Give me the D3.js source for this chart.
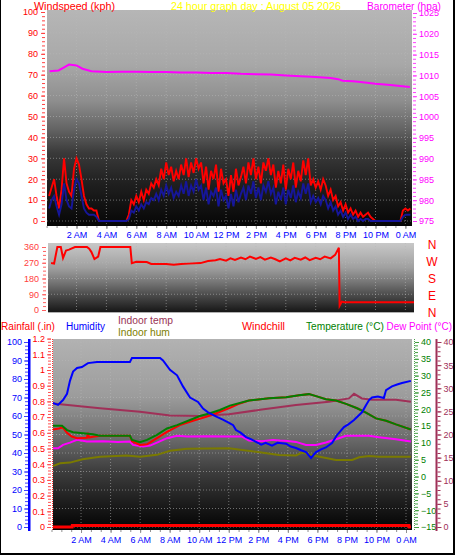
<!DOCTYPE html>
<html><head><meta charset="utf-8">
<script src="https://cdn.jsdelivr.net/npm/d3@7"></script>
<style>body{margin:0;background:#fff;overflow:hidden}svg{display:block}</style>
</head><body><svg id="c" width="459" height="555"></svg>
<script>
// ---------------- DATA ----------------
const hourTicks = [2,4,6,8,10,12,14,16,18,20,22,24];
const hourLabels = ["2 AM","4 AM","6 AM","8 AM","10 AM","12 PM","2 PM","4 PM","6 PM","8 PM","10 PM","0 AM"];

// wind samples every 10 minutes starting 0:10
const windStartHour = 1/6, windStepHour = 1/6;
const windGust = [12,16,20,12,6,15,30,18,14,12,25,30,27,20,12,8,6,6,5,5,
 0,0,0,0,0,0,0,0,0,0,0,0,
 3,10,8,12,9,14,10,15,13,18,16,20,17,25,20,28,22,26,19,24,20,27,22,30,21,28,23,30,25,28,18,26,15,24,20,27,14,25,18,20,12,22,14,25,17,21,26,18,28,22,30,20,26,18,28,24,30,22,27,16,24,18,27,15,25,20,28,16,24,19,29,22,30,17,20,16,19,15,20,17,12,15,10,12,7,9,5,8,4,6,3,5,2,4,2,3,4,2,1,
 0,0,0,0,0,0,0,0,0,0,0,
 5,6,5,6];
const windAvg = [6,10,12,7,3,8,18,10,7,6,15,20,18,12,6,4,3,3,3,2,
 0,0,0,0,0,0,0,0,0,0,0,0,
 1,5,4,7,5,8,6,9,8,11,10,13,10,15,12,17,13,16,11,14,12,17,13,19,12,17,14,20,15,17,10,16,8,14,12,16,7,15,10,12,6,13,7,15,9,13,16,10,17,13,19,11,16,10,17,14,19,13,16,8,14,10,16,8,15,11,17,9,14,11,18,13,18,9,12,9,11,8,12,10,6,9,5,7,3,5,2,4,1,3,1,2,0,1,0,1,1,0,0,
 0,0,0,0,0,0,0,0,0,0,0,
 2,3,3,3];

const baroHours  = [0.2,0.8,1.2,1.5,2.0,2.4,3.0,4,5,6,7,8,9,10,11,12,13,14,15,16,17,18,19,19.5,19.8,20.5,21,22,23,24.3];
const baroValues = [1011.0,1011.2,1012.0,1012.6,1012.4,1011.6,1011.0,1010.8,1010.9,1010.9,1010.8,1010.8,1010.7,1010.7,1010.6,1010.6,1010.4,1010.3,1010.2,1010.0,1009.8,1009.6,1009.4,1009.1,1008.7,1008.6,1008.4,1008.0,1007.7,1007.2];

const dirHours  = [0.3,0.5,0.72,0.95,1.1,1.3,1.5,1.9,2.7,2.85,3.0,3.2,3.45,3.6,5.6,5.7,6.0,6.7,7.0,8.0,8.5,9.0,9.5,10.3,10.8,11.3,11.6,12.0,12.3,12.6,13.0,13.3,13.6,14.0,14.3,14.6,15.0,15.3,15.6,16.0,16.3,16.6,17.0,17.3,17.6,18.0,18.3,18.6,19.0,19.3,19.55,19.6,19.75,19.9,24.6];
const dirValues = [268,265,360,360,297,340,345,360,360,350,331,291,305,360,360,268,276,274,263,263,258,263,265,268,280,284,291,282,295,286,300,290,305,292,302,288,300,290,278,295,283,298,288,300,285,298,290,305,295,315,356,25,48,44,44];

const humHours  = [0.1,0.44,0.78,1.05,1.25,1.46,1.73,2.06,2.47,3.08,5.31,5.45,7.35,7.55,8.02,8.5,8.9,9.38,9.92,10.26,10.6,11.2,11.6,12.08,12.3,12.49,12.8,13.17,13.5,13.85,14.2,14.5,14.93,15.3,15.88,16.2,16.55,16.9,17.23,17.57,17.91,18.25,18.58,18.99,19.33,19.8,20.1,20.48,21.02,21.3,21.5,21.7,22.1,22.5,22.65,23.05,23.4,23.73,24.33];
const humValues = [67,66,68.6,72,79,84,86,86.5,88.6,89.2,89.2,91.4,91.4,90,85,82,76,70,67.6,64,62,59.5,58,56,55,52.4,51,48.6,47.5,46,44.5,45.5,44,45.5,45,43.5,42.7,41.5,40.5,37.3,40.5,42,43,45.4,49.7,54,55.5,57.8,62,66,68.6,70,70.5,69.7,74,76,77,77.8,79];

const tempHours  = [0.1,0.71,1.05,1.46,2.81,3.28,5.31,5.45,5.99,6.47,7.14,7.82,8.5,9.38,10.05,10.73,11.4,12.08,13.37,14.73,15.88,16.76,17.43,17.91,18.58,19.26,19.94,20.69,21.29,21.97,22.65,23.32,24.33];
const tempValues = [15.1,15.1,13.8,13.2,12.6,12.1,12.1,10.9,10.2,10.9,12.4,14.3,15.3,16.8,18.0,18.8,19.8,21.1,22.6,23.3,23.6,24.2,24.5,23.9,23.0,22.6,21.6,20.3,19.0,17.3,16.6,15.5,14.0];

const chillHours  = [0.1,0.5,0.75,1.05,1.37,1.73,2.4,2.45,2.55,2.81,3.3,5.31,5.45,5.99,6.47,7.14,7.82,8.69,9.58,10.53,11.2,12.08,12.6,13.37,14.73,15.88,16.76,17.43,17.91,18.58,19.26,19.94,20.69,21.29,21.97,22.65,23.32,24.33];
const chillValues = [14.0,14.3,14.6,13.0,11.9,11.4,11.5,13.0,11.6,11.8,12.1,12.1,10.5,9.4,9.6,11.4,13.3,15.3,16.6,17.8,18.9,20.4,21.5,22.6,23.3,23.6,24.2,24.5,23.9,23.0,22.6,21.6,20.3,19.0,17.3,16.6,15.5,14.0];

const dewHours  = [0.1,0.44,0.78,1.25,1.73,2.4,3.5,4.5,5.31,5.52,6.2,6.67,7.14,7.82,8.5,9.17,10.5,12.08,12.9,13.37,14.25,15.0,15.47,16.0,16.55,17.23,17.91,18.58,19.26,19.94,21.5,22.17,23.32,24.33];
const dewValues = [8.4,8.4,9.4,10.1,10.9,10.4,10.5,10.3,10.4,9.4,8.9,9.2,10.1,11.4,12.1,11.9,12.0,11.9,11.9,10.7,10.5,10.9,10.7,10.6,10.3,9.4,9.4,10.1,11.1,12.1,12.1,11.7,11.1,10.4];

const inTempHours  = [0.1,3.28,5.99,8.02,10.05,11.07,12.02,14.25,16.55,18.79,20.14,20.48,21.02,21.7,23.32,24.33];
const inTempValues = [26.7,25.7,24.9,24.1,24.0,24.2,24.4,25.4,26.4,27.1,27.8,28.8,27.8,27.5,27.5,27.1];

const inHumHours  = [0.1,0.58,1.25,2.1,3.28,5.1,5.99,7.14,8.02,9.17,12.02,13.85,15.4,16.55,16.96,17.91,19.26,20.35,20.82,21.5,22.17,24.33];
const inHumValues = [33,34.4,34.8,36.6,38,38.7,38,39,41.2,42.3,42.5,40.7,38.9,38.7,40.2,38.4,36.2,36.2,37.7,38.4,38,38];

const rainHours  = [0.1,1.4,1.41,24.2,24.21,24.33];
const rainValues = [0,0,0.01,0.01,0,0];

const dirLetters = ["N","W","S","E","N"];

// ---------------- DRAWING ----------------
const FONT = "'Liberation Sans', Arial, sans-serif";
const svg = d3.select("#c");
const defs = svg.append("defs");
function grad(id, stops){
  const g = defs.append("linearGradient").attr("id", id).attr("x1",0).attr("y1",0).attr("x2",0).attr("y2",1);
  stops.forEach(([o,c]) => g.append("stop").attr("offset", o).attr("stop-color", c));
}
grad("gTop", [[0,"#b6b6b6"],[0.25,"#a8a8a8"],[0.42,"#8e8e8e"],[0.55,"#646464"],[0.66,"#3a3a3a"],[0.8,"#202020"],[1,"#060606"]]);
grad("gMid", [[0,"#c8c8c8"],[0.35,"#a0a0a0"],[0.55,"#787878"],[0.75,"#4a4a4a"],[1,"#141414"]]);
grad("gBot", [[0,"#b2b2b2"],[0.3,"#9c9c9c"],[0.5,"#707070"],[0.68,"#404040"],[0.85,"#1e1e1e"],[1,"#020202"]]);

const pTop = {x0:47, x1:412, y0:10, y1:226};
const pMid = {x0:48, x1:414, y0:243, y1:313};
const pBot = {x0:53, x1:412, y0:339, y1:530};

function panel(p, id, fill){
  defs.append("clipPath").attr("id", id).append("rect")
    .attr("x", p.x0).attr("y", p.y0).attr("width", p.x1-p.x0).attr("height", p.y1-p.y0);
  svg.append("rect").attr("x", p.x0).attr("y", p.y0).attr("width", p.x1-p.x0).attr("height", p.y1-p.y0).attr("fill", fill);
  return svg.append("g").attr("clip-path", `url(#${id})`);
}

function axis(gen, tx, ty, tickColor, textColor, fs){
  const g = svg.append("g").attr("transform", `translate(${tx},${ty})`).call(gen);
  g.select(".domain").remove();
  g.selectAll(".tick line").attr("stroke", tickColor);
  g.selectAll(".tick text").attr("fill", textColor).attr("font-size", fs).attr("font-family", FONT);
  return g;
}
function rng(a, b, s){ const out=[]; for(let v=a; v<=b+1e-9; v+=s) out.push(+v.toFixed(4)); return out; }

function gridLines(g, p, xs, ys){
  xs.forEach(x => g.append("line").attr("x1",x).attr("x2",x).attr("y1",p.y0).attr("y2",p.y1)
    .attr("stroke","#b8b8b8").attr("stroke-opacity",0.55).attr("stroke-dasharray","1,2"));
  ys.forEach(y => g.append("line").attr("x1",p.x0).attr("x2",p.x1).attr("y1",y).attr("y2",y)
    .attr("stroke","#b8b8b8").attr("stroke-opacity",0.55).attr("stroke-dasharray","1,2"));
}

// ===== TOP PANEL =====
const xTop = d3.scaleLinear().domain([0,24]).range([46.6, 405.4]);
const yWind = d3.scaleLinear().domain([0,100]).range([221,12]);
const yBaro = d3.scaleLinear().domain([975,1025]).range([221,13]);
const gTop = panel(pTop, "cTop", "url(#gTop)");
gridLines(gTop, pTop, hourTicks.map(xTop), rng(0,100,10).map(yWind));

const windHours = windGust.map((_, i) => windStartHour + i*windStepHour);
const lineW = d3.line().x((d,i)=>xTop(windHours[i])).y(d=>yWind(d));
gTop.append("path").attr("d", lineW(windGust)).attr("fill","none").attr("stroke","#ff0000").attr("stroke-width",1.9);
gTop.append("path").attr("d", lineW(windAvg)).attr("fill","none").attr("stroke","#16169a").attr("stroke-width",1.9);
const lineB = d3.line().x((d,i)=>xTop(baroHours[i])).y(d=>yBaro(d));
gTop.append("path").attr("d", lineB(baroValues)).attr("fill","none").attr("stroke","#ff00ff").attr("stroke-width",2);

axis(d3.axisLeft(yWind).tickValues(rng(0,100,2)).tickSize(3).tickFormat(""), 45, 0, "#ff4040", "#ff0000", 9);
axis(d3.axisLeft(yWind).tickValues(rng(0,100,10)).tickSize(4).tickPadding(3), 45, 0, "#ff4040", "#ff0000", 9);
axis(d3.axisRight(yBaro).tickValues(rng(975,1025,1)).tickSize(3).tickFormat(""), 413, 0, "#ff40ff", "#ff00ff", 9);
axis(d3.axisRight(yBaro).tickValues(rng(975,1025,5)).tickSize(4).tickPadding(2).tickFormat(d3.format("d")), 413, 0, "#ff40ff", "#ff00ff", 9);
axis(d3.axisBottom(xTop).tickValues(rng(0,24.4,2/3)).tickSize(2).tickFormat(""), 0, pTop.y1, "#909090", "#0000ff", 9);
axis(d3.axisBottom(xTop).tickValues(hourTicks).tickSize(3).tickPadding(3).tickFormat((d,i)=>hourLabels[i]), 0, pTop.y1, "#909090", "#0000ff", 9);

// ===== MIDDLE PANEL =====
const yDir = d3.scaleLinear().domain([0,360]).range([310,247]);
const gMid = panel(pMid, "cMid", "url(#gMid)");
gridLines(gMid, pMid, hourTicks.map(xTop), [90,180,270].map(yDir));
const lineD = d3.line().x((d,i)=>xTop(dirHours[i])).y(d=>yDir(d));
gMid.append("path").attr("d", lineD(dirValues)).attr("fill","none").attr("stroke","#ff0000").attr("stroke-width",2);
svg.append("line").attr("x1",pMid.x0).attr("x2",pMid.x1).attr("y1",pMid.y1-0.5).attr("y2",pMid.y1-0.5).attr("stroke","#b0b0b0");
axis(d3.axisLeft(yDir).tickValues(rng(0,360,22.5)).tickSize(3).tickFormat(""), 46, 0, "#ff6060", "#ff4040", 9);
axis(d3.axisLeft(yDir).tickValues([0,90,180,270,360]).tickSize(4).tickPadding(3), 46, 0, "#ff6060", "#ff4040", 9);
svg.append("g").selectAll("text").data(dirLetters).join("text")
  .attr("x", 432).attr("y", (d,i)=>249 + i*17).attr("text-anchor","middle")
  .attr("font-family", FONT).attr("font-size", 12).attr("fill", "#ff0000").text(d=>d);

// ===== BOTTOM PANEL =====
const xBot = d3.scaleLinear().domain([0,24]).range([51.5, 406]);
const yHum = d3.scaleLinear().domain([0,100]).range([527,342]);
const yRain = d3.scaleLinear().domain([0,1.2]).range([527,338.6]);
const yTemp = d3.scaleLinear().domain([-15,40]).range([527,342]);
const yIn = d3.scaleLinear().domain([0,40]).range([527,342]);
const gBot = panel(pBot, "cBot", "url(#gBot)");
gridLines(gBot, pBot, hourTicks.map(xBot), rng(0,100,10).map(yHum));

function series(hours, vals, y, color, w){
  const l = d3.line().x((d,i)=>xBot(hours[i])).y(d=>y(d));
  gBot.append("path").attr("d", l(vals)).attr("fill","none").attr("stroke",color).attr("stroke-width",w);
}
series(inHumHours, inHumValues, yHum, "#7a7a00", 2);
series(inTempHours, inTempValues, yIn, "#a03058", 2);
series(dewHours, dewValues, yTemp, "#ff00ff", 2);
series(chillHours, chillValues, yTemp, "#ff0000", 2);
series(tempHours, tempValues, yTemp, "#008000", 2);
series(humHours, humValues, yHum, "#0000ff", 2);
series(rainHours, rainValues, yRain, "#ff0000", 3);

// humidity axis
svg.append("rect").attr("x",28).attr("y",339).attr("width",2.5).attr("height",192).attr("fill","#0000ff");
axis(d3.axisLeft(yHum).tickValues(rng(0,100,2)).tickSize(3).tickFormat(""), 28, 0, "#4040ff", "#0000ff", 9);
axis(d3.axisLeft(yHum).tickValues(rng(0,100,10)).tickSize(4).tickPadding(2), 28, 0, "#4040ff", "#0000ff", 9);
// rain axis
svg.append("line").attr("x1",52.5).attr("x2",52.5).attr("y1",339).attr("y2",531).attr("stroke","#ff3030").attr("stroke-dasharray","1,1");
axis(d3.axisLeft(yRain).tickValues(rng(0,1.2,0.02)).tickSize(3).tickFormat(""), 51, 0, "#ff5050", "#ff0000", 9);
axis(d3.axisLeft(yRain).tickValues(rng(0,1.2,0.1)).tickSize(4).tickPadding(2).tickFormat(d=>d3.format("~g")(+d.toFixed(1))), 51, 0, "#ff5050", "#ff0000", 9);
// temperature axis
svg.append("line").attr("x1",414.5).attr("x2",414.5).attr("y1",339).attr("y2",531).attr("stroke","#50a050").attr("stroke-dasharray","1,1");
axis(d3.axisRight(yTemp).tickValues(rng(-15,40,1)).tickSize(3).tickFormat(""), 415, 0, "#40a040", "#008000", 9);
axis(d3.axisRight(yTemp).tickValues(rng(-15,40,5)).tickSize(4).tickPadding(2), 415, 0, "#40a040", "#008000", 9);
// indoor temp axis
svg.append("rect").attr("x",435.5).attr("y",339).attr("width",2).attr("height",192).attr("fill","#a03058");
axis(d3.axisRight(yIn).tickValues(rng(0,40,1)).tickSize(3).tickFormat(""), 437.5, 0, "#a03058", "#a03058", 9);
axis(d3.axisRight(yIn).tickValues(rng(0,40,5)).tickSize(4).tickPadding(2), 437.5, 0, "#a03058", "#a03058", 9);
// x axis
axis(d3.axisBottom(xBot).tickValues(rng(0,24.4,2/3)).tickSize(2).tickFormat(""), 0, pBot.y1, "#909090", "#0000ff", 9);
axis(d3.axisBottom(xBot).tickValues(hourTicks).tickSize(3).tickPadding(4).tickFormat((d,i)=>hourLabels[i]), 0, pBot.y1, "#909090", "#0000ff", 9);

// ===== HEADERS (horizontally scaled to the reference widths) =====
function label(txt, x, y, w, color){
  const t = svg.append("text").attr("x",0).attr("y",0).attr("font-family",FONT).attr("font-size",11.5)
    .attr("fill",color).text(txt);
  const nat = t.node().getComputedTextLength() || w;
  t.attr("transform", `translate(${x},${y}) scale(${w/nat},1)`);
}
label("Windspeed (kph)", 34, 9.5, 81, "#ff0000");
label("24 hour graph day : August 05 2026", 171, 9.5, 170, "#ffff00");
label("Barometer (hpa)", 367, 9.5, 74, "#ff00ff");
label("Rainfall (.in)", 1, 330, 54, "#ff0000");
label("Humidity", 66, 330, 39, "#0000ff");
label("Indoor temp", 118, 324, 55, "#993355");
label("Indoor hum", 118, 336, 52, "#808000");
label("Windchill", 242, 330, 43, "#ff0000");
label("Temperature (°C)", 306, 330, 78, "#008000");
label("Dew Point (°C)", 386.5, 330, 65.5, "#ff00ff");

// ===== FRAME =====
svg.append("rect").attr("x",0).attr("y",0).attr("width",1).attr("height",555).attr("fill","#000");
svg.append("rect").attr("x",453).attr("y",0).attr("width",2).attr("height",555).attr("fill","#000");
svg.append("rect").attr("x",0).attr("y",553).attr("width",455).attr("height",2).attr("fill","#000");
</script>
</body></html>
